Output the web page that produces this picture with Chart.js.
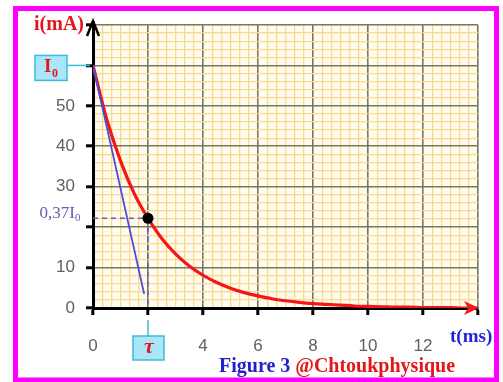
<!DOCTYPE html>
<html>
<head>
<meta charset="utf-8">
<script src="https://cdn.jsdelivr.net/npm/chart.js@4.4.0/dist/chart.umd.min.js"></script>
<style>
  html, body { margin: 0; padding: 0; background: #fff; }
</style>
</head>
<body>
<canvas id="chartDecay" width="503" height="382"></canvas>
<script>
// courbe de décharge i(t)
const timeMs = [0, 0.5, 1, 1.5, 2, 2.5, 3, 3.5, 4, 4.5, 5, 5.5, 6, 6.5, 7, 7.5, 8, 8.5, 9, 9.5, 10, 10.5, 11, 11.5, 12, 12.5, 13, 13.5, 14];
const currentMA = [60, 46.7, 36.4, 28.3, 22.2, 17.2, 13.4, 10.4, 8.1, 6.3, 4.9, 3.8, 3.0, 2.3, 1.8, 1.4, 1.1, 0.9, 0.7, 0.5, 0.4, 0.3, 0.2, 0.2, 0.1, 0.1, 0.1, 0, 0];
// tangente a l'origine
const tangentT = [0, 1.86];
const tangentI = [60, 3.5];
// point (tau, 0.37 I0)
const tauMs = 2;
const tauCurrent = 22.2;
const I0 = 60;
// graduations affichees
const xTickLabels = [0, 4, 6, 8, 10, 12];
const yTickLabels = [0, 10, 30, 40, 50];

const chartDecay = document.getElementById("chartDecay");

const isMajorX = (v) => Math.abs(v / 2 - Math.round(v / 2)) < 1e-6;
const isMajorY = (v) => Math.abs(v / 10 - Math.round(v / 10)) < 1e-6;

const calloutBox = (ctx, x, y, w, h) => {
  ctx.fillStyle = '#a9e7f8';
  ctx.strokeStyle = '#3fb8e0';
  ctx.lineWidth = 1.5;
  ctx.fillRect(x, y, w, h);
  ctx.strokeRect(x, y, w, h);
};

const decorPlugin = {
  id: 'decor',
  beforeDraw(chart) {
    const {ctx, chartArea: a} = chart;
    ctx.save();
    ctx.fillStyle = '#fff';
    ctx.fillRect(0, 0, chart.width, chart.height);
    ctx.strokeStyle = '#ff00ff';
    ctx.lineWidth = 5;
    ctx.strokeRect(15.5, 8.5, 481, 371.5);
    ctx.fillStyle = '#fffcef';
    ctx.fillRect(a.left, a.top, a.right - a.left, a.bottom - a.top);
    ctx.restore();
  },
  afterDatasetsDraw(chart) {
    const {ctx, scales: {x, y}} = chart;
    const px = x.getPixelForValue(tauMs);
    const py = y.getPixelForValue(tauCurrent);
    ctx.save();
    ctx.strokeStyle = '#6a5cc0';
    ctx.lineWidth = 1.5;
    ctx.setLineDash([5, 4]);
    ctx.beginPath();
    ctx.moveTo(x.getPixelForValue(0), py);
    ctx.lineTo(px, py);
    ctx.moveTo(px, py);
    ctx.lineTo(px, y.getPixelForValue(0));
    ctx.stroke();
    ctx.setLineDash([]);
    ctx.fillStyle = '#000';
    ctx.beginPath();
    ctx.arc(px, py, 5.5, 0, Math.PI * 2);
    ctx.fill();
    ctx.restore();
  },
  afterDraw(chart) {
    const {ctx, chartArea: a, scales: {x, y}} = chart;
    const x0 = x.getPixelForValue(0);
    const y0 = y.getPixelForValue(0);
    ctx.save();

    // fleche axe i
    ctx.strokeStyle = '#000';
    ctx.lineWidth = 3;
    ctx.beginPath();
    ctx.moveTo(x0, a.top);
    ctx.lineTo(x0, a.top - 4);
    ctx.stroke();
    ctx.lineWidth = 2.5;
    ctx.beginPath();
    ctx.moveTo(x0 - 6, a.top + 11);
    ctx.lineTo(x0, a.top - 4);
    ctx.lineTo(x0 + 6, a.top + 11);
    ctx.stroke();

    // fleche rouge axe t
    const xe = x.getPixelForValue(14);
    ctx.fillStyle = '#f01a1a';
    ctx.beginPath();
    ctx.moveTo(xe + 1, y0);
    ctx.lineTo(xe - 14, y0 - 7);
    ctx.lineTo(xe - 10, y0);
    ctx.lineTo(xe - 14, y0 + 7);
    ctx.closePath();
    ctx.fill();

    // textes
    ctx.textBaseline = 'middle';
    ctx.textAlign = 'right';
    ctx.fillStyle = '#e3161c';
    ctx.font = 'bold 20px "Liberation Serif"';
    ctx.fillText('i(mA)', 84, 25);

    // I0
    const yI0 = y.getPixelForValue(I0);
    ctx.strokeStyle = '#3fb8e0';
    ctx.lineWidth = 1.5;
    ctx.beginPath();
    ctx.moveTo(67, yI0);
    ctx.lineTo(x0 - 3, yI0);
    ctx.stroke();
    calloutBox(ctx, 35, yI0 - 10, 32, 25);
    ctx.fillStyle = '#e3161c';
    ctx.textAlign = 'left';
    ctx.font = 'bold 19px "Liberation Serif"';
    ctx.fillText('I', 44, yI0 + 2);
    ctx.font = 'bold 12px "Liberation Serif"';
    ctx.fillText('0', 52, yI0 + 8);

    // 0,37 I0
    const yTau = y.getPixelForValue(tauCurrent);
    ctx.fillStyle = '#6a5cb0';
    ctx.textAlign = 'right';
    ctx.font = '17px "Liberation Serif"';
    ctx.fillText('0,37I', 75, yTau - 5);
    ctx.textAlign = 'left';
    ctx.font = '11px "Liberation Serif"';
    ctx.fillText('0', 75, yTau);

    // tau
    const xTau = x.getPixelForValue(tauMs);
    ctx.strokeStyle = '#3fb8e0';
    ctx.lineWidth = 1.5;
    ctx.beginPath();
    ctx.moveTo(xTau, y0 + 12);
    ctx.lineTo(xTau, y0 + 28);
    ctx.stroke();
    calloutBox(ctx, xTau - 15, y0 + 28, 31, 24);
    ctx.fillStyle = '#e3161c';
    ctx.textAlign = 'center';
    ctx.font = 'italic bold 22px "Liberation Serif"';
    ctx.fillText('\u03C4', xTau + 1, y0 + 39);

    // t(ms)
    ctx.fillStyle = '#2424d6';
    ctx.textAlign = 'left';
    ctx.font = 'bold 19px "Liberation Serif"';
    ctx.fillText('t(ms)', 450, 337);

    // legende
    ctx.font = 'bold 20px "Liberation Serif"';
    const part1 = 'Figure 3 ';
    ctx.fillStyle = '#2222cc';
    ctx.fillText(part1, 219, 367);
    ctx.fillStyle = '#e3161c';
    ctx.fillText('@Chtoukphysique', 219 + ctx.measureText(part1).width, 367);

    ctx.restore();
  }
};

new Chart(chartDecay, {
  type: 'line',
  data: {
    datasets: [
      {
        label: 'tangente',
        data: tangentT.map((t, k) => ({x: t, y: tangentI[k]})),
        borderColor: '#4a4ae0',
        borderWidth: 1.8,
        pointRadius: 0,
        tension: 0
      },
      {
        label: 'i(t)',
        data: timeMs.map((t, k) => ({x: t, y: currentMA[k]})),
        borderColor: '#f51515',
        borderWidth: 3.2,
        pointRadius: 0,
        tension: 0.4,
        cubicInterpolationMode: 'monotone'
      }
    ]
  },
  options: {
    responsive: false,
    animation: false,
    layout: { padding: { top: 25, right: 25, left: 0, bottom: 0 } },
    plugins: { legend: { display: false }, tooltip: { enabled: false } },
    scales: {
      x: {
        type: 'linear',
        min: 0,
        max: 14,
        afterFit: (scale) => { scale.height = 74; },
        border: { display: true, color: '#000', width: 3 },
        grid: {
          color: (c) => isMajorX(c.tick.value) ? '#77775a' : '#f8da8e',
          lineWidth: (c) => isMajorX(c.tick.value) ? 1.6 : 1.3,
          tickColor: (c) => isMajorX(c.tick.value) ? '#000' : 'rgba(0,0,0,0)',
          tickWidth: 3,
          tickLength: 7
        },
        ticks: {
          stepSize: 1 / 3,
          autoSkip: false,
          maxRotation: 0,
          padding: 21,
          color: '#606060',
          font: { family: 'Liberation Sans', size: 17 },
          callback: (v) => {
            const hit = xTickLabels.find((l) => Math.abs(l - v) < 1e-6);
            return hit === undefined ? '' : String(hit);
          }
        }
      },
      y: {
        min: 0,
        max: 70,
        afterFit: (scale) => { scale.width = 93; },
        border: { display: true, color: '#000', width: 3 },
        grid: {
          color: (c) => isMajorY(c.tick.value) ? '#77775a' : '#f8da8e',
          lineWidth: (c) => isMajorY(c.tick.value) ? 1.6 : 1.3,
          tickColor: (c) => isMajorY(c.tick.value) ? '#000' : 'rgba(0,0,0,0)',
          tickWidth: 3,
          tickLength: 7
        },
        ticks: {
          stepSize: 2,
          autoSkip: false,
          padding: 11,
          color: '#606060',
          font: { family: 'Liberation Sans', size: 17 },
          callback: (v) => yTickLabels.includes(v) ? String(v) : ''
        }
      }
    }
  },
  plugins: [decorPlugin]
});
</script>
</body>
</html>
